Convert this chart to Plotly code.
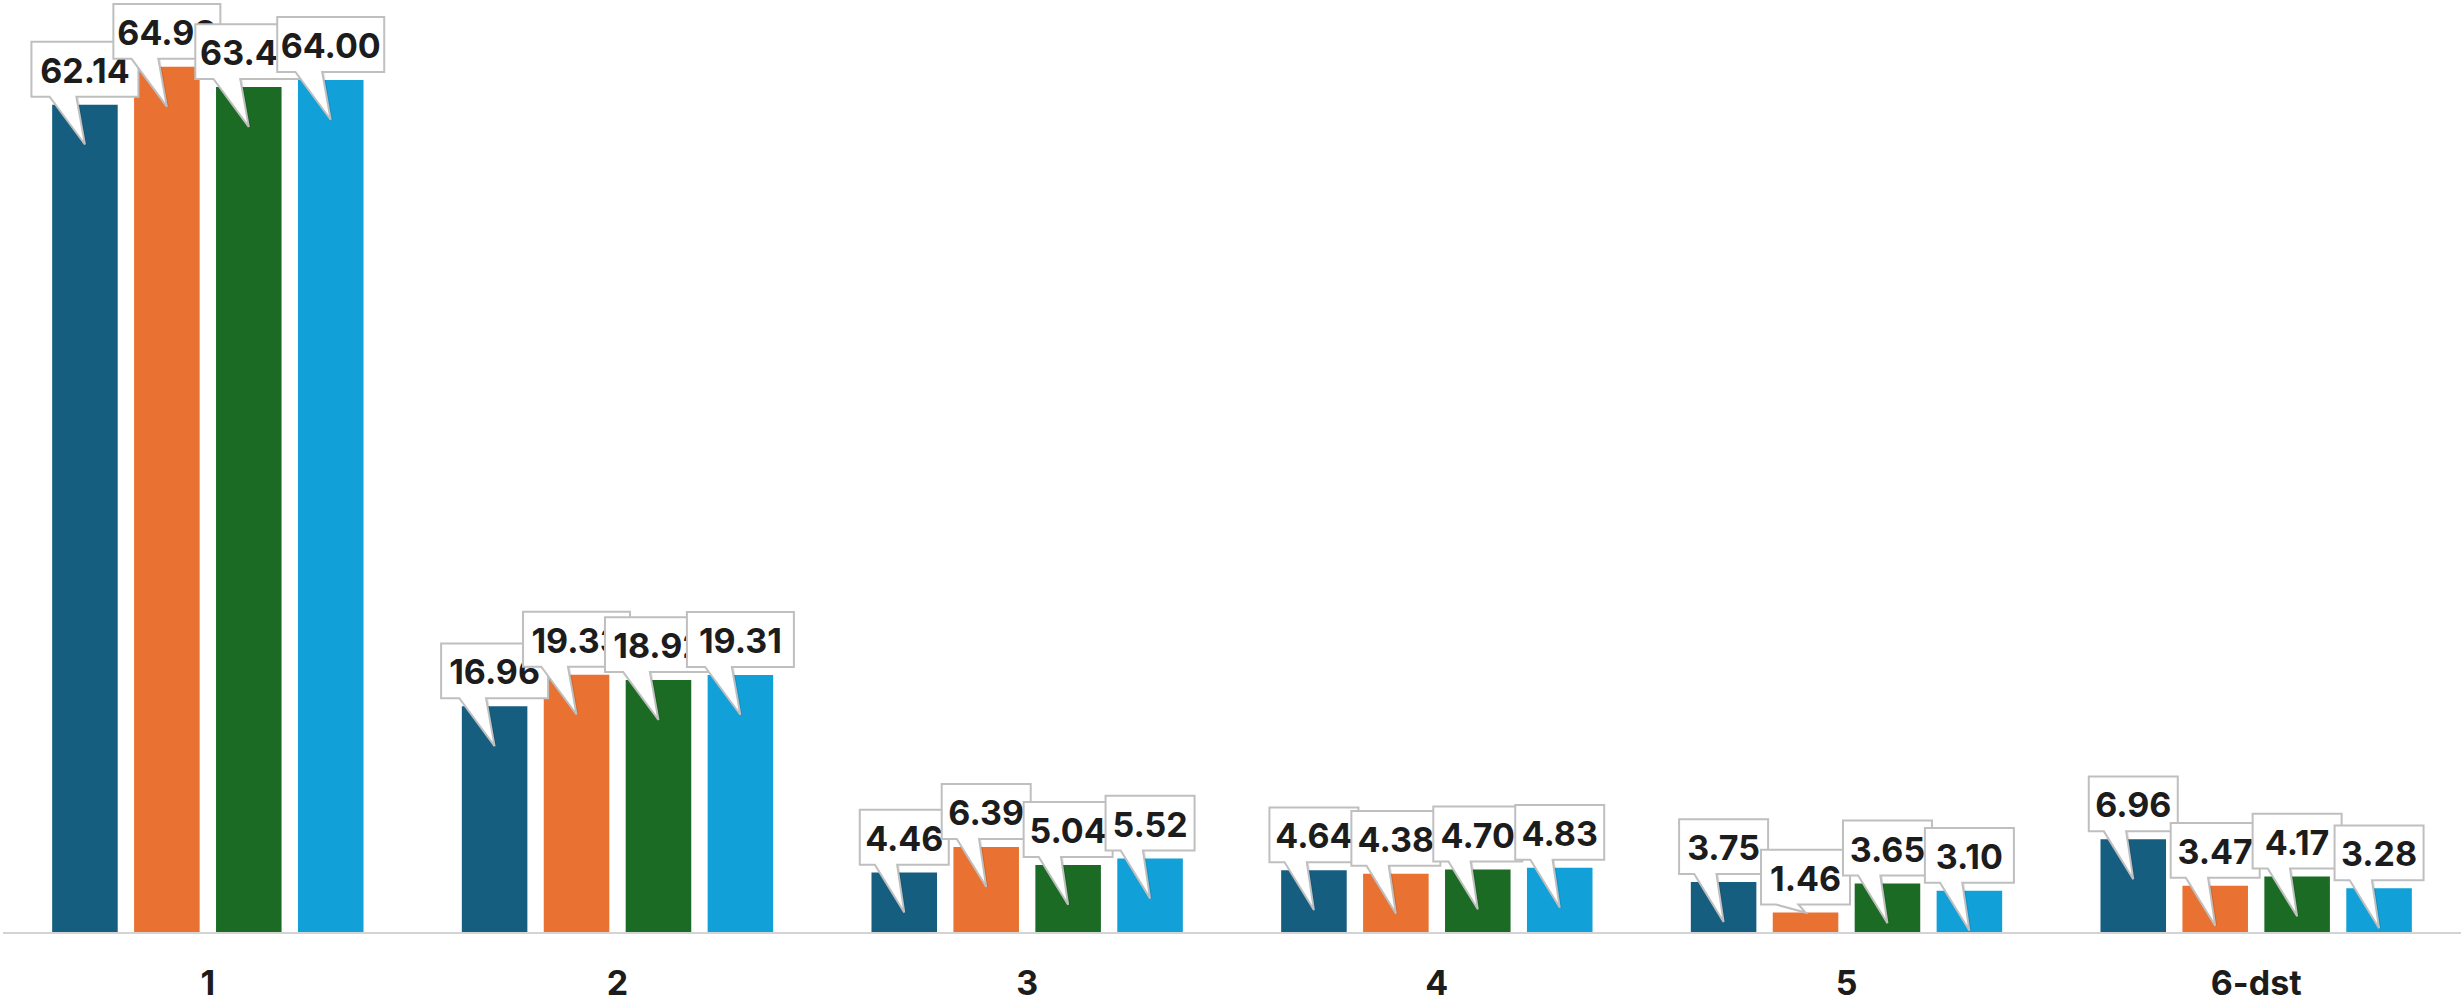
import plotly.graph_objects as go

categories = ["1", "2", "3", "4", "5", "6-dst"]
series_a = [62.14, 16.96, 4.46, 4.64, 3.75, 6.96]
series_b = [64.98, 19.33, 6.39, 4.38, 1.46, 3.47]
series_c = [63.47, 18.92, 5.04, 4.70, 3.65, 4.17]
series_d = [64.00, 19.31, 5.52, 4.83, 3.10, 3.28]
series_names = ["A", "B", "C", "D"]
colors = ["#165E80", "#E97132", "#1B6B24", "#11A0D8"]

W, H = 2461, 1003
ML, MR, MT, MB = 3, 0, 0, 68
YMAX = 70
BARGAP, GROUPGAP = 0.2, 0.2

xs = list(range(len(categories)))
all_series = [series_a, series_b, series_c, series_d]

fig = go.Figure()
for name, vals, col in zip(series_names, all_series, colors):
    fig.add_trace(go.Bar(x=xs, y=vals, name=name, marker=dict(color=col, line=dict(width=0)),
                         hoverinfo="skip"))

# pixel -> data conversion
plot_w = W - ML - MR
plot_h = H - MT - MB
px_x = (len(categories)) / plot_w
px_y = YMAX / plot_h

n = len(all_series)
slot = (1 - BARGAP) / n
shapes = []
FONT = dict(family="Inter", size=34, color="#1c1c1c", weight=700)
for ci in range(len(categories)):
    for si, vals in enumerate(all_series):
        v = vals[ci]
        cx = ci + (si - (n - 1) / 2) * slot
        txt = f"{v:.2f}"
        wpx = 18 * len(txt) + 17
        bar_px = v / px_y
        depth = 40 if bar_px >= 40 else 0
        bl = cx - wpx / 2 * px_x
        br = cx + wpx / 2 * px_x
        bb = v + 8 * px_y
        bt = v + 63 * px_y
        b1 = bl + 0.17 * wpx * px_x
        b2 = bl + 0.42 * wpx * px_x
        tip_y = v - depth * px_y
        # soft shadow on pointer
        shapes.append(dict(type="path", xref="x", yref="y",
                           path=(f"M {b2 + 2*px_x},{bb} L {cx + 2*px_x},{tip_y - 1*px_y} "
                                 f"L {b1 + 2*px_x},{bb} Z"),
                           fillcolor="rgba(0,0,0,0.12)", line=dict(width=0), layer="above"))
        path = (f"M {bl},{bb} L {bl},{bt} L {br},{bt} L {br},{bb} "
                f"L {b2},{bb} L {cx},{tip_y} L {b1},{bb} Z")
        shapes.append(dict(type="path", xref="x", yref="y", path=path,
                           fillcolor="white", line=dict(color="#BFBFBF", width=2),
                           layer="above"))
        shapes.append(dict(type="rect", xref="x", yref="y", x0=bl, x1=br, y0=bb, y1=bt,
                           fillcolor="rgba(0,0,0,0)", line=dict(width=0), layer="above",
                           label=dict(text=txt, font=FONT, textposition="middle center")))

fig.update_layout(
    width=W, height=H,
    margin=dict(l=ML, r=MR, t=MT, b=MB),
    paper_bgcolor="white", plot_bgcolor="white",
    bargap=BARGAP, bargroupgap=GROUPGAP, barmode="group",
    showlegend=False,
    shapes=shapes,
    xaxis=dict(range=[-0.5, len(categories) - 0.5], tickvals=xs, ticktext=categories,
               showgrid=False, zeroline=False, showline=True, linecolor="#D3D3D3",
               linewidth=2, ticks="", ticklabelstandoff=20,
               tickfont=dict(family="Inter", size=34, color="#1c1c1c", weight=700)),
    yaxis=dict(range=[0, YMAX], visible=False, showgrid=False, zeroline=False),
)

fig.write_html("out.html", config={"displayModeBar": False},
               post_script="document.body.style.margin='0';document.body.style.overflow='hidden';")
